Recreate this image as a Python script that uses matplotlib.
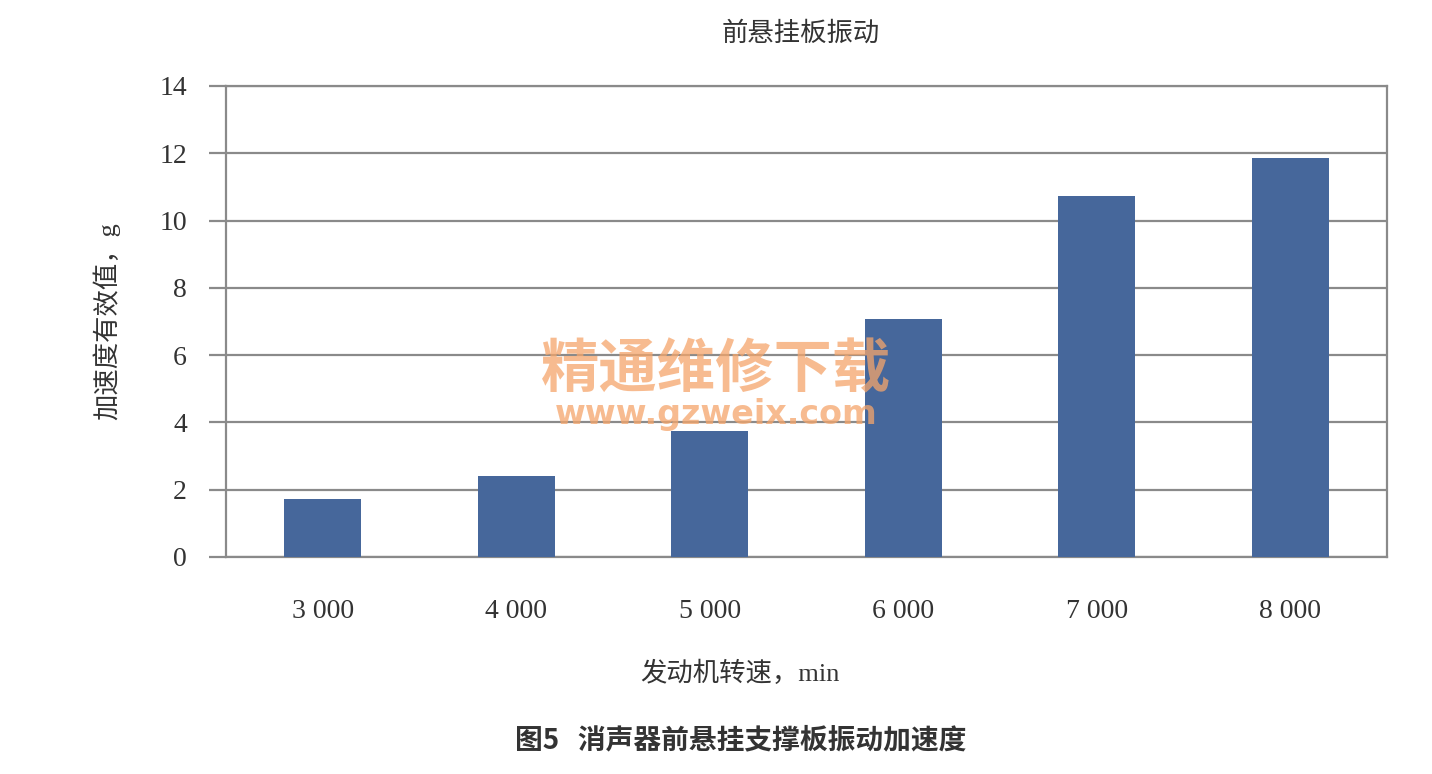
import matplotlib.pyplot as plt
import numpy as np

plt.rcParams['font.family'] = ['Liberation Serif', 'Noto Sans CJK SC', 'DejaVu Sans']

# data
speeds = ['3 000', '4 000', '5 000', '6 000', '7 000', '8 000']
accel = [1.72, 2.42, 3.75, 7.08, 10.73, 11.86]
y_ticks = [0, 2, 4, 6, 8, 10, 12, 14]

bar_color = '#46679b'
line_color = '#8a8a8a'
text_color = '#333333'

fig = plt.figure(figsize=(14.32, 7.74), dpi=100)
ax = fig.add_axes([0.1578, 0.2804, 0.8108, 0.6085])

x = np.arange(len(speeds))
ax.bar(x, accel, width=0.4, color=bar_color, zorder=3)

ax.set_xlim(-0.5, len(speeds) - 0.5)
ax.set_ylim(0, 14)
ax.set_yticks(y_ticks)
ax.set_xticks(x)
ax.set_xticklabels(speeds)
ax.grid(axis='y', color=line_color, linewidth=1.6, zorder=1)
for side in ['left', 'bottom', 'right', 'top']:
    ax.spines[side].set_color(line_color)
    ax.spines[side].set_linewidth(1.6)
ax.tick_params(axis='y', length=12, width=1.6, color=line_color, pad=16,
               labelsize=20, labelcolor=text_color)
ax.tick_params(axis='x', length=0, pad=30, labelsize=20, labelcolor=text_color)
for lab in ax.get_xticklabels() + ax.get_yticklabels():
    lab.set_family('Liberation Serif')

fig.text(0.559, 0.957, '前悬挂板振动', ha='center', va='center',
         fontsize=19, color=text_color, family=['Noto Sans CJK SC'])
fig.text(0.074, 0.585, '加速度有效值，g', ha='center', va='center',
         rotation=90, fontsize=19, color=text_color,
         family=['Liberation Serif', 'Noto Sans CJK SC'])
fig.text(0.517, 0.13, '发动机转速，min', ha='center', va='center',
         fontsize=19, color=text_color,
         family=['Liberation Serif', 'Noto Sans CJK SC'])
fig.text(0.517, 0.044, '图5   消声器前悬挂支撑板振动加速度', ha='center',
         va='center', fontsize=20, fontweight='bold', color='#333333',
         family=['Noto Sans CJK SC'])

# watermark
fig.text(0.5, 0.522, '精通维修下载', ha='center', va='center', fontsize=42,
         fontweight='bold', color='#f5a56b', alpha=0.75,
         family=['Noto Sans CJK SC'], zorder=2)
fig.text(0.5, 0.464, 'www.gzweix.com', ha='center', va='center',
         fontsize=24, fontweight='bold', color='#f5a56b', alpha=0.75,
         family=['DejaVu Sans'], zorder=2)

fig.savefig('out.png', dpi=100)
